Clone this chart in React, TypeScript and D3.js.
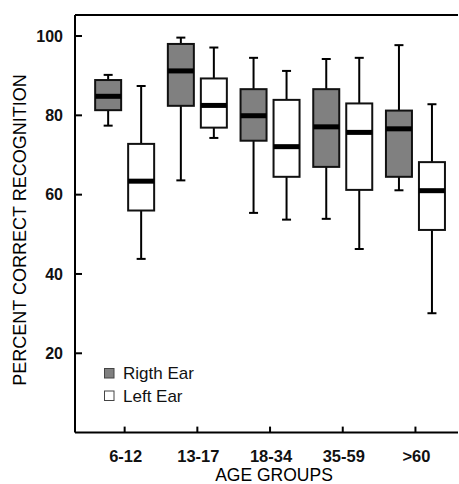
import React from 'react';
import * as d3 from 'd3';

// Box plots of recognition score by age group, right vs left ear.
// Each stat row: [whisker low, q1, median, q3, whisker high]

const groups = ['6-12', '13-17', '18-34', '35-59', '>60'];
const ears = ['Rigth Ear', 'Left Ear'];
const earFill = ['#808080', '#ffffff'];

const rightEar = [
  [77.4, 81.3, 84.8, 88.9, 90.2],
  [63.6, 82.4, 91.2, 98.0, 99.6],
  [55.4, 73.6, 79.9, 86.6, 94.5],
  [53.9, 67.0, 77.1, 86.6, 94.2],
  [61.1, 64.5, 76.6, 81.2, 97.7],
];

const leftEar = [
  [43.8, 56.0, 63.4, 72.8, 87.4],
  [74.3, 76.9, 82.5, 89.3, 97.1],
  [53.7, 64.5, 72.1, 83.9, 91.2],
  [46.3, 61.2, 75.7, 83.0, 94.5],
  [30.1, 51.1, 61.0, 68.2, 82.8],
];

const yTicks = [20, 40, 60, 80, 100];

const W = 459;
const H = 484;
const LEFT = 75;
const RIGHT = 458;
const TOP = 15;
const BOTTOM = 432.6;
const FONT = '"Liberation Sans", Arial, sans-serif';

export default function App() {
  const y = d3.scaleLinear().domain([0, 105.3]).range([BOTTOM, TOP]);
  const x = d3.scaleBand().domain(groups).range([88.3, 451.8]);
  const bw = x.bandwidth();
  const xs = d3.scalePoint().domain(ears).range([bw / 2 - 16.5, bw / 2 + 16.5]);
  const boxW = 26;
  const capW = 9;

  const series = [rightEar, leftEar];

  return (
    <svg width={W} height={H} style={{ position: 'absolute', left: 0, top: 0, background: '#fff' }}>
      {/* boxes */}
      {series.map((data, si) =>
        data.map((s, gi) => {
          const cx = (x(groups[gi]) as number) + (xs(ears[si]) as number);
          const [lo, q1, med, q3, hi] = s;
          return (
            <g key={`${si}-${gi}`}>
              <line x1={cx} x2={cx} y1={y(hi)} y2={y(q3)} stroke="#000" strokeWidth={2} />
              <line x1={cx} x2={cx} y1={y(q1)} y2={y(lo)} stroke="#000" strokeWidth={2} />
              <line x1={cx - capW / 2} x2={cx + capW / 2} y1={y(hi)} y2={y(hi)} stroke="#000" strokeWidth={2} />
              <line x1={cx - capW / 2} x2={cx + capW / 2} y1={y(lo)} y2={y(lo)} stroke="#000" strokeWidth={2} />
              <rect
                x={cx - boxW / 2}
                y={y(q3)}
                width={boxW}
                height={y(q1) - y(q3)}
                fill={earFill[si]}
                stroke="#111"
                strokeWidth={2}
              />
              <rect x={cx - boxW / 2} y={y(med) - 2.5} width={boxW} height={5} fill="#000" />
            </g>
          );
        })
      )}

      {/* frame */}
      <line x1={LEFT} x2={LEFT} y1={TOP} y2={BOTTOM} stroke="#000" strokeWidth={2} />
      <line x1={LEFT} x2={RIGHT} y1={TOP} y2={TOP} stroke="#000" strokeWidth={2} />
      <line x1={LEFT} x2={RIGHT} y1={BOTTOM} y2={BOTTOM} stroke="#000" strokeWidth={2} />

      {/* y ticks */}
      {yTicks.map(t => (
        <g key={t}>
          <line x1={LEFT} x2={LEFT + 7} y1={y(t)} y2={y(t)} stroke="#000" strokeWidth={2} />
          <text
            x={63}
            y={y(t)}
            dy="0.36em"
            textAnchor="end"
            fontFamily={FONT}
            fontWeight="bold"
            fontSize={16}
            fill="#111"
          >
            {t}
          </text>
        </g>
      ))}

      {/* x ticks */}
      {groups.map(g => {
        const cx = (x(g) as number) + bw / 2;
        return (
          <g key={g}>
            <line x1={cx} x2={cx} y1={BOTTOM} y2={BOTTOM - 6} stroke="#000" strokeWidth={2} />
            <text
              x={cx + 1}
              y={462}
              textAnchor="middle"
              fontFamily={FONT}
              fontWeight="bold"
              fontSize={16.5}
              fill="#111"
            >
              {g}
            </text>
          </g>
        );
      })}

      {/* axis titles */}
      <text x={274} y={481} textAnchor="middle" fontFamily={FONT} fontSize={17.5} fill="#000">
        AGE GROUPS
      </text>
      <text
        transform={`translate(26,230) rotate(-90)`}
        textAnchor="middle"
        fontFamily={FONT}
        fontSize={18}
        fill="#000"
      >
        PERCENT CORRECT RECOGNITION
      </text>

      {/* legend */}
      {ears.map((e, i) => (
        <g key={e} transform={`translate(104,${368 + i * 22.5})`}>
          <rect x={0.5} y={0.5} width={9.5} height={9.5} fill={earFill[i]} stroke="#444" strokeWidth={1} />
          <text x={19} y={11} fontFamily={FONT} fontSize={17} fill="#111">
            {e}
          </text>
        </g>
      ))}
    </svg>
  );
}
